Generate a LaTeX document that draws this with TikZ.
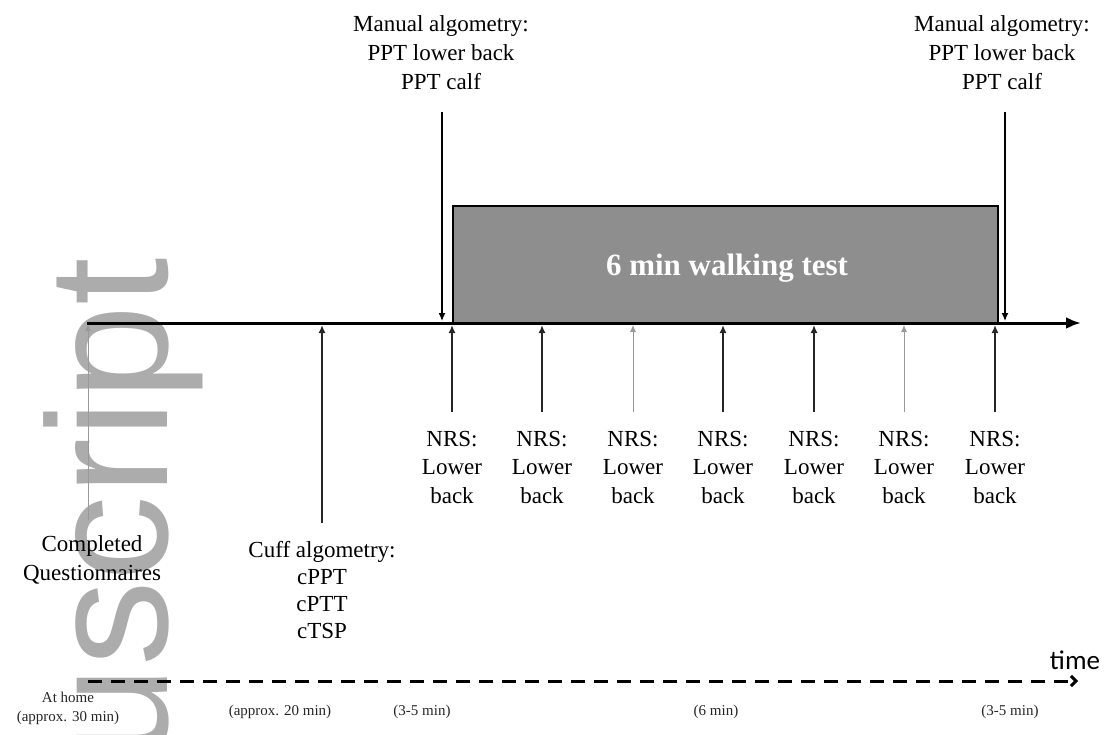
\documentclass[tikz,border=0pt]{standalone}
\usepackage{fontspec}
\setmainfont{Liberation Serif}
\newfontfamily\wmfont{Liberation Sans}
\newfontfamily\timefont{Carlito}
\usetikzlibrary{arrows.meta}
\definecolor{wmgray}{RGB}{172,172,172}
\definecolor{boxgray}{RGB}{142,142,142}
\begin{document}
\begin{tikzpicture}[x=1pt,y=-1pt,
  lbl/.style={align=center,font=\fontsize{23}{29}\selectfont,inner sep=0pt},
  nrslbl/.style={align=center,font=\fontsize{23}{28.5}\selectfont,inner sep=0pt},
  small/.style={font=\fontsize{15}{18}\selectfont,inner sep=0pt,text=black!85},
  darkarrow/.style={line width=2.4pt,draw=black!85,-{Latex[length=8pt,width=7pt]}},
  lightarrow/.style={line width=0.9pt,draw=black!40,-{Latex[length=7pt,width=6pt]}},
  downarrow/.style={line width=1.3pt,-{Latex[length=8pt,width=7pt]}},
  axisline/.style={line width=3pt,-{Latex[length=15pt,width=12pt]}},
  timeline/.style={line width=3pt,dash pattern=on 14pt off 9pt,-{Straight Barb[length=5pt,width=10pt]}},
  walkbox/.style={draw=black,line width=2pt,fill=boxgray,minimum width=545pt,minimum height=118pt,inner sep=0pt,anchor=north west},
]
\useasboundingbox (0,0) rectangle (1106,734);
% watermark
\node[rotate=90,anchor=base east,inner sep=0pt,text=wmgray,font=\wmfont\fontsize{171}{171}\selectfont] (wm) at (167,258) {uscript};
% walking test box
\node[walkbox] (walk) at (452,205) {};
\node[text=white,font=\bfseries\fontsize{31}{31}\selectfont] (walktxt) at (727,268) {6 min walking test};
% main axis
\coordinate (ax0) at (87,323);
\coordinate (ax1) at (1081,323);
\draw[axisline] (ax0) -- (ax1);
% manual algometry
\node[lbl] (man1) at (441,53) {Manual algometry:\\PPT lower back\\PPT calf};
\node[lbl] (man2) at (1002,53) {Manual algometry:\\PPT lower back\\PPT calf};
\coordinate (m1a) at (442,112);
\coordinate (m1b) at (442,321);
\coordinate (m2a) at (1005,112);
\coordinate (m2b) at (1005,321);
\draw[downarrow] (m1a) -- (m1b);
\draw[downarrow] (m2a) -- (m2b);
% questionnaires
\coordinate (qa) at (88,520);
\coordinate (qb) at (88,324);
\draw[lightarrow] (qa) -- (qb);
\node[lbl] (quest) at (92,560) {Completed\\Questionnaires};
% cuff
\coordinate (ca) at (322,523);
\coordinate (cb) at (322,325);
\draw[darkarrow] (ca) -- (cb);
\node[lbl,font=\fontsize{23}{27}\selectfont] (cuff) at (322,590) {Cuff algometry:\\cPPT\\cPTT\\cTSP};
% NRS
\foreach \i/\xx/\st in {1/452/darkarrow,2/542/darkarrow,3/633/lightarrow,4/723/darkarrow,5/814/darkarrow,6/904/lightarrow,7/995/darkarrow}{
  \coordinate (n\i a) at (\xx,412);
  \coordinate (n\i b) at (\xx,325);
  \draw[\st] (n\i a) -- (n\i b);
  \node[nrslbl] (nrs\i) at (\xx,467) {NRS:\\Lower\\back};
}
% time line
\coordinate (t0) at (88,681);
\coordinate (t1) at (1078,681);
\draw[timeline] (t0) -- (t1);
\node[font=\timefont\fontsize{27}{27}\selectfont,inner sep=0pt] (time) at (1075,660) {time};
% durations
\node[small] (home1) at (68,697) {At home};
\node[small] (home2) at (68,718) {(approx. 30 min)};
\node[small] (d1) at (280,712) {(approx. 20 min)};
\node[small] (d2) at (422,712) {(3-5 min)};
\node[small] (d3) at (716,712) {(6 min)};
\node[small] (d4) at (1010,712) {(3-5 min)};
\end{tikzpicture}
\end{document}
